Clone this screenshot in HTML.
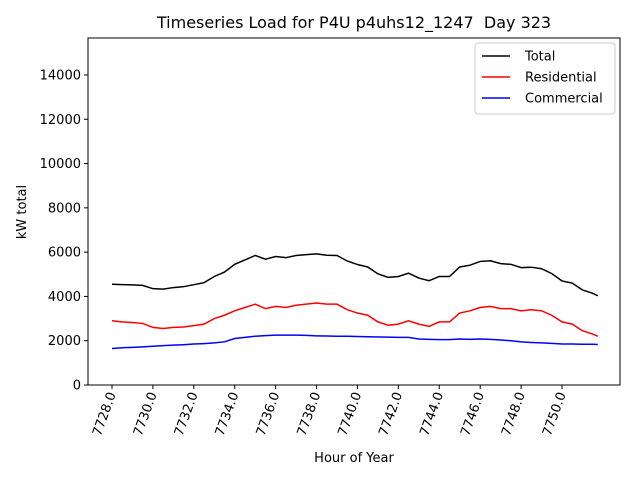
<!DOCTYPE html>
<html><head><meta charset="utf-8"><style>
body{margin:0;background:#fff}
svg{font-family:"DejaVu Sans","Liberation Sans",sans-serif}
</style></head><body>
<svg id="c" width="640" height="480"></svg>
<script>
const hours=[7728,7728.5,7729,7729.5,7730,7730.5,7731,7731.5,7732,7732.5,7733,7733.5,7734,7734.5,7735,7735.5,7736,7736.5,7737,7737.5,7738,7738.5,7739,7739.5,7740,7740.5,7741,7741.5,7742,7742.5,7743,7743.5,7744,7744.5,7745,7745.5,7746,7746.5,7747,7747.5,7748,7748.5,7749,7749.5,7750,7750.5,7751,7751.5,7751.75];
const residential=[2900,2850,2820,2780,2600,2550,2600,2620,2680,2750,3000,3150,3350,3500,3650,3450,3550,3500,3600,3650,3700,3650,3650,3400,3250,3150,2850,2700,2750,2900,2750,2650,2850,2850,3250,3350,3500,3550,3450,3450,3350,3400,3350,3150,2850,2750,2450,2300,2200];
const commercial=[1650,1680,1700,1720,1750,1780,1800,1820,1850,1870,1900,1950,2100,2150,2200,2230,2250,2250,2250,2240,2220,2210,2200,2200,2190,2180,2170,2160,2150,2150,2080,2060,2050,2050,2080,2060,2080,2060,2030,2000,1950,1920,1900,1880,1850,1850,1840,1840,1830];
const xTicks=[7728,7730,7732,7734,7736,7738,7740,7742,7744,7746,7748,7750];
const yTicks=[0,2000,4000,6000,8000,10000,12000,14000];
const NS="http://www.w3.org/2000/svg";
const svg=document.getElementById('c');
const L=88,R=620,T=38,B=385;
const X=h=>112+(h-7728)*(450/22);
const Y=v=>B-v*(347/15670);
function el(t,a,p){const e=document.createElementNS(NS,t);for(const k in a)e.setAttribute(k,a[k]);(p||svg).appendChild(e);return e;}
const frame=el('rect',{x:L,y:T,width:R-L,height:B-T,fill:'none',stroke:'#000','stroke-width':1});


const t=el('text',{x:354,y:28,'text-anchor':'middle','font-size':16});
t.textContent='Timeseries Load for P4U p4uhs12_1247\u00a0 Day 323';


yTicks.forEach(v=>{
 const g=el('g',{});
 
 
 el('line',{x1:L-4,x2:L,y1:Y(v),y2:Y(v),stroke:'#000'},g);
 const tx=el('text',{x:L-7,y:Y(v)+4.5,'text-anchor':'end','font-size':13},g);tx.textContent=v;
});
xTicks.forEach(h=>{
 const g=el('g',{});
 
 
 el('line',{x1:X(h),x2:X(h),y1:B,y2:B+4,stroke:'#000'},g);
 const tx=el('text',{x:0,y:0,'text-anchor':'end','font-size':13,transform:`translate(${X(h)+4},${B+9}) rotate(-70)`},g);tx.textContent=h.toFixed(1);
});
const xl=el('text',{x:354,y:462,'text-anchor':'middle','font-size':13});xl.textContent='Hour of Year';


const yl=el('text',{x:0,y:0,'text-anchor':'middle','font-size':13,transform:'translate(26,212) rotate(-90)'});yl.textContent='kW total';


const total=residential.map((r,i)=>r+commercial[i]);
function line(vals,color,name){
 const p=el('polyline',{points:vals.map((v,i)=>X(hours[i])+','+Y(v)).join(' '),fill:'none',stroke:color,'stroke-width':1.5});
 
 
}
line(total,'#000','total-line');
line(residential,'#f00','residential-line');
line(commercial,'#00f','commercial-line');
const lg=el('g',{});


el('rect',{x:475,y:43,width:140,height:71,rx:3,fill:'#fff',stroke:'#ccc'},lg);
[['Total','#000'],['Residential','#f00'],['Commercial','#00f']].forEach((d,i)=>{
 const g=el('g',{},lg);
 
 
 const y=56+i*21;
 el('line',{x1:482,x2:510,y1:y,y2:y,stroke:d[1],'stroke-width':1.5},g);
 const tx=el('text',{x:525,y:y+4.5,'font-size':13},g);tx.textContent=d[0];
});
</script>
</body></html>
